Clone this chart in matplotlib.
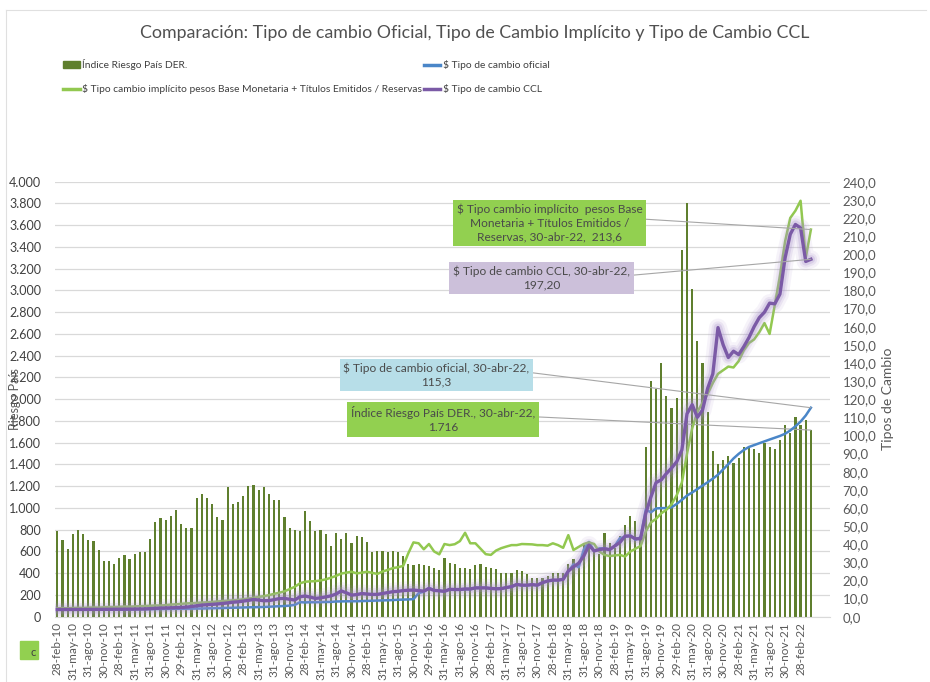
import numpy as np
import matplotlib
matplotlib.use("Agg")
import matplotlib.pyplot as plt
from matplotlib.patches import Rectangle
from matplotlib.lines import Line2D

plt.rcParams['font.family'] = ['Lato', 'DejaVu Sans']

# ---------------- data (monthly, feb-2010 .. abr-2022) ----------------
riesgo = [788, 702, 626, 763, 800, 763, 708, 696, 614, 513, 513, 489, 537, 568, 528, 574, 598, 595, 714, 873,
          904, 885, 922, 983, 849, 818, 818, 1087, 1130, 1093, 1038, 916, 885, 1191, 1032, 1056, 1108, 1203, 1215, 1169,
          1197, 1130, 1069, 1069, 919, 818, 800, 791, 975, 883, 791, 797, 760, 652, 766, 717, 766, 674, 742, 729,
          683, 591, 606, 606, 591, 606, 591, 560, 489, 477, 483, 476, 467, 452, 430, 537, 498, 482, 452, 446,
          443, 473, 489, 461, 452, 437, 406, 400, 406, 428, 421, 391, 360, 354, 354, 376, 400, 406, 406, 482,
          534, 513, 666, 635, 620, 574, 773, 681, 635, 742, 843, 925, 879, 742, 1563, 2167, 2094, 2329, 2032, 1916,
          2008, 3372, 3801, 3013, 2535, 2329, 1885, 1523, 1400, 1440, 1480, 1410, 1462, 1560, 1560, 1542, 1502, 1594, 1560, 1542,
          1625, 1763, 1692, 1833, 1760, 1808, 1716]

oficial = [3.86, 3.88, 3.89, 3.91, 3.93, 3.94, 3.94, 3.96, 3.96, 3.98, 3.98,
           4.01, 4.03, 4.05, 4.08, 4.09, 4.11, 4.14, 4.19, 4.21, 4.23, 4.27, 4.30,
           4.35, 4.36, 4.38, 4.42, 4.47, 4.53, 4.60, 4.66, 4.71, 4.78, 4.83, 4.92,
           4.98, 5.05, 5.12, 5.18, 5.28, 5.39, 5.51, 5.67, 5.79, 5.91, 6.14, 6.52,
           8.02, 7.88, 8.00, 8.00, 8.08, 8.13, 8.17, 8.40, 8.46, 8.50, 8.53, 8.55,
           8.65, 8.72, 8.82, 8.90, 8.99, 9.09, 9.18, 9.36, 9.42, 9.53, 9.70, 13.00,
           13.80, 15.80, 14.60, 14.20, 13.98, 15.04, 14.98, 14.93, 15.26, 15.17, 15.85, 15.85,
           15.91, 15.59, 15.38, 15.42, 16.05, 16.60, 17.66, 17.33, 17.32, 17.64, 17.31, 18.77,
           19.65, 20.14, 20.15, 20.55, 24.96, 28.85, 27.31, 37.07, 41.25, 36.20, 37.70, 37.70,
           37.04, 39.02, 43.35, 44.01, 44.87, 42.46, 43.87, 59.10, 57.59, 59.72, 59.90, 59.90,
           60.34, 62.22, 64.47, 66.84, 68.54, 70.46, 72.32, 74.18, 76.18, 78.32, 81.30, 84.15,
           87.30, 89.83, 92.00, 93.65, 94.69, 95.73, 96.79, 97.75, 98.74, 99.72, 100.94, 102.75,
           105.04, 107.65, 111.01, 115.3]

implicito = [4.6, 4.7, 4.6, 4.8, 4.9, 4.8, 5.0, 5.1, 5.0, 5.2, 5.3, 5.3, 5.4, 5.6, 5.5, 5.7, 5.8, 5.9, 6.0, 6.2,
             6.1, 6.4, 6.7, 6.8, 7.1, 7.3, 7.4, 7.6, 7.8, 7.9, 8.1, 8.4, 8.6, 8.8, 9.0, 9.2, 9.6, 10.0, 10.4, 10.9,
             11.3, 11.9, 12.6, 13.2, 14.0, 15.2, 16.5, 18.4, 19.3, 19.5, 19.6, 20.0, 20.6, 21.5, 22.5, 23.8, 24.3, 24.8, 23.9, 24.3,
             24.8, 24.2, 23.6, 24.9, 25.8, 26.8, 27.3, 28.0, 35.0, 41.0, 40.5, 37.2, 40.1, 36.0, 34.4, 40.1, 39.5, 40.0, 41.7, 46.3,
             40.5, 40.5, 37.5, 34.5, 34.1, 36.5, 37.8, 38.7, 39.5, 39.5, 40.1, 40.0, 39.9, 39.5, 39.5, 39.2, 40.5, 39.5, 38.0, 45.0,
             36.8, 38.5, 40.1, 41.0, 40.1, 36.0, 34.1, 33.5, 33.8, 34.1, 33.2, 35.9, 37.5, 39.0, 47, 52, 54, 57, 59, 62,
             67, 74, 90, 104, 113, 118, 123, 129, 134, 136, 138, 137.5, 141, 147, 151, 153, 157, 162, 156, 172,
             188, 207, 220, 224, 229.5, 198, 213.6]

ccl = [3.95, 3.97, 3.98, 3.99, 4.00, 4.00, 4.01, 4.02, 4.03, 4.05, 4.06,
       4.08, 4.10, 4.12, 4.16, 4.19, 4.24, 4.30, 4.45, 4.60, 4.75, 4.80, 4.90,
       5.0, 5.1, 5.3, 5.6, 6.0, 6.4, 6.6, 6.8, 7.0, 7.3, 7.6, 8.0,
       8.2, 8.6, 9.0, 9.5, 9.2, 8.8, 8.9, 9.4, 10.0, 10.1, 9.6, 9.2,
       11.0, 11.4, 10.8, 10.1, 10.4, 10.9, 11.5, 12.5, 14.2, 13.2, 11.9, 12.2,
       12.8, 12.5, 12.3, 12.3, 12.8, 13.3, 13.8, 14.0, 14.4, 14.6, 14.7, 14.4,
       14.1, 15.6, 14.5, 14.3, 14.0, 15.1, 15.0, 15.0, 15.3, 15.3, 15.9, 15.9,
       15.9, 15.6, 15.4, 15.5, 16.1, 16.6, 17.8, 17.4, 17.4, 17.7, 17.4, 18.8,
       19.7, 20.2, 20.2, 20.6, 25.2, 27.5, 29.5, 33.5, 39.5, 36.3, 37.0, 37.5,
       37.0, 39.0, 41.0, 44.5, 44.5, 43.0, 43.0, 57.0, 66.0, 74.0, 75.5, 79.0,
       82, 85.5, 92, 112, 117, 110, 114, 126, 134, 159.5, 150, 143, 146.5, 144.6, 149, 154, 160, 165, 168, 173,
       172.6, 178, 198, 211, 216.4, 214.5, 196, 197.2]

xlabels = ["28-feb-10", "31-may-10", "31-ago-10", "30-nov-10",
           "28-feb-11", "31-may-11", "31-ago-11", "30-nov-11",
           "29-feb-12", "31-may-12", "31-ago-12", "30-nov-12",
           "28-feb-13", "31-may-13", "31-ago-13", "30-nov-13",
           "28-feb-14", "31-may-14", "31-ago-14", "30-nov-14",
           "28-feb-15", "31-may-15", "31-ago-15", "30-nov-15",
           "29-feb-16", "31-may-16", "31-ago-16", "30-nov-16",
           "28-feb-17", "31-may-17", "31-ago-17", "30-nov-17",
           "28-feb-18", "31-may-18", "31-ago-18", "30-nov-18",
           "28-feb-19", "31-may-19", "31-ago-19", "30-nov-19",
           "29-feb-20", "31-may-20", "31-ago-20", "30-nov-20",
           "28-feb-21", "31-may-21", "31-ago-21", "30-nov-21",
           "28-feb-22"]

left_ticks = list(range(0, 4001, 200))
right_ticks = list(range(0, 241, 10))

title = "Comparación: Tipo de cambio Oficial, Tipo de Cambio Implícito y Tipo de Cambio CCL"
lab_bar = "Índice Riesgo País DER."
lab_of = "$ Tipo de cambio oficial"
lab_imp = "$ Tipo cambio implícito pesos Base Monetaria + Títulos Emitidos / Reservas"
lab_ccl = "$ Tipo de cambio CCL"

# ---------------- styles ----------------
C_BAR = '#5F7F2E'
C_OF = '#4A86C8'
C_IMP = '#92C850'
C_CCL = '#7B5AA6'
C_GLOW = '#A890CC'
C_TXT = '#595959'
C_GRID = '#D9D9D9'

W, H = 930, 682
fig = plt.figure(figsize=(W / 100, H / 100), dpi=100)

def fx(px):
    return px / W

def fy(py):
    return 1 - py / H

x = np.arange(len(riesgo))
ax = fig.add_axes([fx(55), fy(616.7), fx(830) - fx(55), fy(181.7) - fy(616.7)])
ax2 = ax.twinx()

ax.bar(x, riesgo, width=0.42, color=C_BAR, zorder=2)
ax.set_ylim(0, 4000)
ax.set_xlim(-0.45, 149.7)
ax.set_yticks(left_ticks)
ax.set_yticklabels([f"{v:,}".replace(",", ".") for v in left_ticks])
ax.yaxis.grid(True, color=C_GRID, lw=0.9, zorder=0)
ax.set_axisbelow(True)
ax.tick_params(axis='y', length=0, pad=10, labelsize=9, labelcolor='#404040')
ax.set_xticks(x[::3])
ax.set_xticklabels(xlabels, rotation=90, fontsize=8.5, color=C_TXT)
ax.tick_params(axis='x', length=0, pad=4)
for s in ['top', 'left', 'right']:
    ax.spines[s].set_visible(False)
ax.spines['bottom'].set_color(C_GRID)
ax.set_ylabel("Riesgo País", fontsize=9, color=C_TXT)
ax.yaxis.set_label_coords(fx(14) - fx(55), 0.5)

ax2.set_ylim(0, 240)
ax2.set_yticks(right_ticks)
ax2.set_yticklabels([f"{v:.1f}".replace(".", ",") for v in right_ticks])
ax2.tick_params(axis='y', length=0, pad=9, labelsize=9.5, labelcolor=C_TXT)
for s in ['top', 'left', 'right', 'bottom']:
    ax2.spines[s].set_visible(False)
ax2.set_ylabel("Tipos de Cambio", fontsize=10, color=C_TXT)
ax2.yaxis.set_label_coords((fx(882) - fx(55)) / (fx(830) - fx(55)), 0.5)

ax2.plot(x, oficial, color=C_OF, lw=1.8, zorder=3)
ax2.plot(x, implicito, color=C_IMP, lw=1.8, zorder=4)
for lw, a in [(13, 0.10), (9, 0.16), (6, 0.25)]:
    ax2.plot(x, ccl, color=C_GLOW, lw=lw, alpha=a, solid_capstyle='round',
             solid_joinstyle='round', zorder=5)
ax2.plot(x, ccl, color=C_CCL, lw=2.4, zorder=6, solid_joinstyle='round')

# ---------------- title & legend ----------------
fig.text(fx(474.5), fy(33), title, ha='center', va='center', fontsize=12.8, color='#505050')

handles = [Rectangle((0, 0), 1, 1, color=C_BAR),
           Line2D([], [], color=C_IMP, lw=2.5),
           Line2D([], [], color=C_OF, lw=2.5),
           Line2D([], [], color=C_CCL, lw=2.5)]
labels = [lab_bar, lab_imp, lab_of, lab_ccl]
fig.legend(handles, labels, ncol=2, loc='upper left', bbox_to_anchor=(fx(54), fy(50)),
           frameon=False, fontsize=7.4, handlelength=1.6, handletextpad=0.25,
           columnspacing=0.15, labelspacing=1.35, labelcolor='#404040')

# ---------------- data labels ----------------
last = len(riesgo) - 1
ann = [
    (ax2, implicito[last], "$ Tipo cambio implícito  pesos Base\nMonetaria + Títulos Emitidos /\nReservas, 30-abr-22,  213,6",
     (549.5, 223), '#92D050'),
    (ax2, ccl[last], "$ Tipo de cambio CCL, 30-abr-22,\n197,20", (541.5, 278), '#CCC0DA'),
    (ax2, oficial[last], "$ Tipo de cambio oficial, 30-abr-22,\n115,3", (436.5, 375), '#B7DEE8'),
    (ax, riesgo[last], "Índice Riesgo País DER., 30-abr-22,\n1.716", (443, 419.5), '#92D050'),
]
for a, val, txt, (px, py), col in ann:
    a.annotate(txt, xy=(last, val), xycoords='data',
               xytext=(px, H - py), textcoords='figure pixels',
               ha='center', va='center', fontsize=8.6, color='#4A4A4A',
               linespacing=1.35,
               bbox=dict(boxstyle='square,pad=0.3', fc=col, ec='none'),
               arrowprops=dict(arrowstyle='-', color='#A6A6A6', lw=0.8,
                               relpos=(1, 0.6), shrinkA=0, shrinkB=0),
               zorder=10, annotation_clip=False)

# bottom-left artifact (partially hidden legend key)
fig.patches.append(Rectangle((fx(20), fy(659)), fx(18), fy(641) - fy(659), transform=fig.transFigure,
                             color='#92D050', zorder=1))
fig.text(fx(33), fy(653), "c", fontsize=8, color='#404040', ha='center', va='center')

# faint chart border
fig.add_artist(Line2D([fx(6), fx(6)], [0, fy(10)], color='#E0E0E0', lw=0.8, transform=fig.transFigure))
fig.add_artist(Line2D([fx(6), fx(926)], [fy(10), fy(10)], color='#E0E0E0', lw=0.8, transform=fig.transFigure))

fig.savefig("out.png", dpi=100)
